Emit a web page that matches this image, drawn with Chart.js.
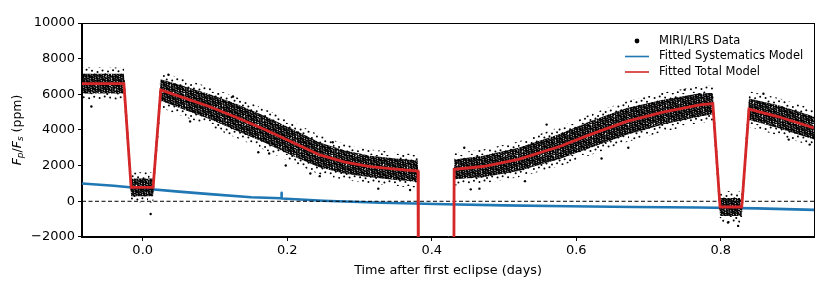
<!DOCTYPE html>
<html>
<head>
<meta charset="utf-8">
<script src="https://cdn.jsdelivr.net/npm/chart.js@4.4.1/dist/chart.umd.min.js"></script>
<style>
  html, body { margin: 0; padding: 0; background: #fff; }
  #wrap { width: 830px; height: 291px; position: relative; }
</style>
</head>
<body>
<div id="wrap"><canvas id="eclipseChart"></canvas></div>
<script>
// eclipse light curve

// fitted total model, knots in days / ppm
const modelTime = [-0.084, -0.026, -0.016, 0.0144, 0.025, 0.05, 0.093, 0.13, 0.169, 0.21, 0.245, 0.28, 0.315, 0.35, 0.381,
    0.3815, 0.4305, 0.431, 0.471, 0.52, 0.577, 0.62, 0.67, 0.72, 0.771, 0.789, 0.799, 0.829, 0.839, 0.88, 0.929];
const modelFlux = [6600, 6600, 780, 780, 6250, 5900, 5300, 4700, 4030, 3250, 2600, 2200, 1950, 1800, 1690,
    -5000, -5000, 1790, 1950, 2350, 3070, 3750, 4480, 5000, 5410, 5480, -320, -320, 5170, 4740, 4110];

// spread of the data cloud around the model (half widths, ppm); null where there is no data
const cloudCore = [550, 550, 500, 500, 600, 650, 700, 750, 750, 750, 700, 650, 600, 600, 600,
    null, null, 550, 600, 650, 700, 750, 750, 700, 650, 600, 500, 500, 600, 650, 650];
const cloudOuter = [900, 900, 850, 850, 1000, 1050, 1100, 1150, 1150, 1150, 1100, 1000, 950, 950, 950,
    null, null, 900, 950, 1000, 1100, 1150, 1150, 1100, 1050, 1000, 900, 900, 1000, 1050, 1050];

// stray data points outside the dense band
const outlierTime = [-0.071, 0.011, 0.0356, 0.0656, 0.125, 0.160, 0.175, 0.198, 0.232, 0.245, 0.263, 0.326, 0.370,
    0.445, 0.454, 0.466, 0.529, 0.559, 0.635, 0.672, 0.750, 0.810, 0.824, 0.859, 0.894, 0.923];
const outlierFlux = [5320, -710, 7100, 4480, 5880, 2750, 2680, 2010, 1560, 1410, 3310, 710, 630,
    3000, 670, 710, 1130, 4300, 2400, 3000, 6250, -1190, -1380, 6030, 3460, 3180];

// fitted systematics model
const sysTime = [-0.084, -0.04, 0.0, 0.05, 0.093, 0.15, 0.1915, 0.192, 0.1925, 0.25, 0.33, 0.42, 0.5, 0.59, 0.68, 0.77, 0.85, 0.929];
const sysFlux = [1000, 870, 720, 540, 400, 230, 170, 480, 160, 30, -80, -170, -230, -280, -320, -350, -400, -480];

const xTicks = [0.0, 0.2, 0.4, 0.6, 0.8];
const yTicks = [-2000, 0, 2000, 4000, 6000, 8000, 10000];

const xMin = -0.084, xMax = 0.929;

const FONT = '"DejaVu Sans", sans-serif';

function pts(xs, ys) {
    return xs.map((x, i) => ({ x: x, y: ys[i] }));
}
function band(sign, hw) {
    return modelTime.map((t, i) => ({ x: t, y: hw[i] === null ? null : modelFlux[i] + sign * hw[i] }));
}

// dotted texture for the dense scatter cloud
function dotPattern(n, w, h) {
    const tile = document.createElement('canvas');
    tile.width = w; tile.height = h;
    const c = tile.getContext('2d');
    c.fillStyle = '#000';
    const g = 1.32471795724;
    for (let i = 0; i < n; i++) {
        const px = ((0.37 + i / g) % 1) * w;
        const py = ((0.61 + i / (g * g)) % 1) * h;
        c.beginPath();
        c.arc(px, py, 1.0, 0, Math.PI * 2);
        c.fill();
    }
    return c.createPattern(tile, 'repeat');
}

const frameAndLabels = {
    id: 'frameAndLabels',
    afterDraw(chart) {
        const ctx = chart.ctx;
        const a = chart.chartArea;
        ctx.save();
        // box spines
        ctx.strokeStyle = '#000';
        ctx.lineWidth = 1;
        ctx.strokeRect(Math.round(a.left) - 0.5, Math.round(a.top) + 0.5, Math.round(a.right - a.left) + 1, Math.round(a.bottom - a.top));

        // legend
        ctx.textBaseline = 'middle';
        ctx.font = '11.5px ' + FONT;
        ctx.fillStyle = '#000';
        const rows = [a.top + 18, a.top + 33.5, a.top + 49];
        ctx.beginPath();
        ctx.arc(a.right - 177, rows[0], 2.4, 0, Math.PI * 2);
        ctx.fill();
        ctx.fillText('MIRI/LRS Data', a.right - 155, rows[0]);
        ctx.lineWidth = 1.6;
        ctx.strokeStyle = '#1f77b4';
        ctx.beginPath(); ctx.moveTo(a.right - 189, rows[1]); ctx.lineTo(a.right - 165, rows[1]); ctx.stroke();
        ctx.fillText('Fitted Systematics Model', a.right - 155, rows[1]);
        ctx.strokeStyle = '#d62728';
        ctx.beginPath(); ctx.moveTo(a.right - 189, rows[2]); ctx.lineTo(a.right - 165, rows[2]); ctx.stroke();
        ctx.fillText('Fitted Total Model', a.right - 155, rows[2]);

        // y axis title: F_p/F_s (ppm)
        const parts = [
            { t: 'F', f: 'italic 12.5px ' + FONT, dy: 0 },
            { t: 'p', f: 'italic 9px ' + FONT, dy: 3 },
            { t: '/', f: '12.5px ' + FONT, dy: 0 },
            { t: 'F', f: 'italic 12.5px ' + FONT, dy: 0 },
            { t: 's', f: 'italic 9px ' + FONT, dy: 3 },
            { t: ' (ppm)', f: '12.5px ' + FONT, dy: 0 }
        ];
        let total = 0;
        parts.forEach(p => { ctx.font = p.f; p.w = ctx.measureText(p.t).width; total += p.w; });
        ctx.translate(18, (a.top + a.bottom) / 2);
        ctx.rotate(-Math.PI / 2);
        let x = -total / 2;
        ctx.textAlign = 'left';
        parts.forEach(p => { ctx.font = p.f; ctx.fillText(p.t, x, p.dy); x += p.w; });
        ctx.restore();
    }
};

document.addEventListener("DOMContentLoaded", function () {
    Chart.defaults.font.family = FONT;
    Chart.defaults.font.size = 13;
    Chart.defaults.color = '#000';

    const ctx = document.getElementById('eclipseChart').getContext('2d');
    const densePattern = dotPattern(460, 37, 31);
    const sparsePattern = dotPattern(48, 37, 31);

    new Chart(ctx, {
        type: 'line',
        data: {
            datasets: [
                {
                    label: 'Fitted Total Model',
                    data: pts(modelTime, modelFlux),
                    borderColor: '#d62728',
                    borderWidth: 2.8,
                    pointRadius: 0,
                    order: 0
                },
                {
                    label: 'zero',
                    data: [{ x: xMin, y: 0 }, { x: xMax, y: 0 }],
                    borderColor: '#000',
                    borderWidth: 1,
                    borderDash: [4, 2.5],
                    pointRadius: 0,
                    order: 1
                },
                {
                    label: 'MIRI/LRS Data',
                    data: pts(outlierTime, outlierFlux),
                    showLine: false,
                    pointRadius: 1.2,
                    pointBorderWidth: 0,
                    pointBackgroundColor: '#000',
                    order: 2
                },
                {
                    label: 'core hi',
                    data: band(1, cloudCore),
                    borderWidth: 0,
                    pointRadius: 0,
                    fill: '+1',
                    backgroundColor: densePattern,
                    order: 3
                },
                {
                    label: 'core lo',
                    data: band(-1, cloudCore),
                    borderWidth: 0,
                    pointRadius: 0,
                    order: 4
                },
                {
                    label: 'outer hi',
                    data: band(1, cloudOuter),
                    borderWidth: 0,
                    pointRadius: 0,
                    fill: '+1',
                    backgroundColor: sparsePattern,
                    order: 5
                },
                {
                    label: 'outer lo',
                    data: band(-1, cloudOuter),
                    borderWidth: 0,
                    pointRadius: 0,
                    order: 6
                },
                {
                    label: 'Fitted Systematics Model',
                    data: pts(sysTime, sysFlux),
                    borderColor: '#1f77b4',
                    borderWidth: 2.6,
                    borderJoinStyle: 'round',
                    pointRadius: 0,
                    order: 7
                }
            ]
        },
        options: {
            responsive: true,
            maintainAspectRatio: false,
            animation: false,
            layout: { padding: { top: 23, right: 16, bottom: 9, left: 0 } },
            plugins: {
                legend: { display: false },
                tooltip: { enabled: false }
            },
            scales: {
                x: {
                    type: 'linear',
                    min: xMin,
                    max: xMax,
                    grid: { drawOnChartArea: false, drawTicks: true, tickLength: 4, color: '#000' },
                    border: { color: '#000', width: 1 },
                    afterBuildTicks: (s) => { s.ticks = xTicks.map(v => ({ value: v })); },
                    ticks: {
                        padding: 3,
                        font: { size: 13, lineHeight: 1.1 },
                        callback: (v) => Number(v).toFixed(1)
                    },
                    title: {
                        display: true,
                        text: 'Time after first eclipse (days)',
                        font: { size: 12.8 },
                        padding: { top: 1.4, bottom: 4 }
                    }
                },
                y: {
                    min: -2000,
                    max: 10000,
                    afterFit: (s) => { s.width = 82; },
                    afterBuildTicks: (s) => { s.ticks = yTicks.map(v => ({ value: v })); },
                    grid: { drawOnChartArea: false, drawTicks: true, tickLength: 4, color: '#000' },
                    border: { color: '#000', width: 1 },
                    ticks: {
                        padding: 3,
                        callback: (v) => v < 0 ? '\u2212' + Math.abs(v) : String(v)
                    }
                }
            }
        },
        plugins: [frameAndLabels]
    });
});
</script>
</body>
</html>
